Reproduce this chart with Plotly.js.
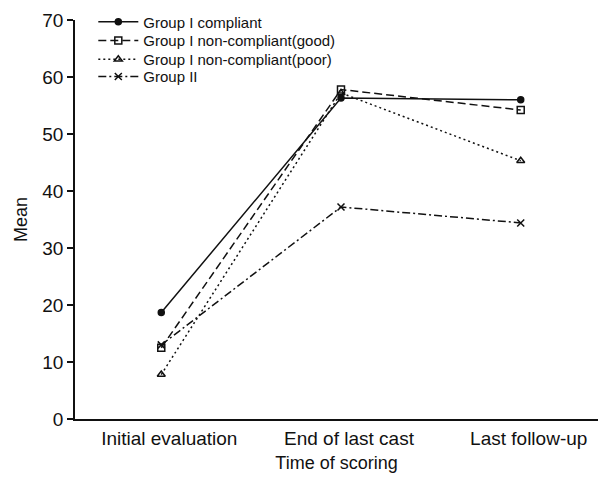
<!DOCTYPE html>
<html><head><meta charset="utf-8">
<script src="https://cdn.plot.ly/plotly-3.0.1.min.js"></script>
<style>body{margin:0;padding:0;background:#fff}</style>
</head><body><div id="chart" style="width:599px;height:478px"></div>
<script>
const categories = ["Initial evaluation", "End of last cast", "Last follow-up"];
const seriesNames = ["Group I compliant", "Group I non-compliant(good)", "Group I non-compliant(poor)", "Group II"];
const compliant = [18.7, 56.3, 56.0];
const nonCompliantGood = [12.5, 57.8, 54.2];
const nonCompliantPoor = [7.8, 57.2, 45.3];
const groupII = [13.0, 37.2, 34.4];
const yTicks = [0, 10, 20, 30, 40, 50, 60, 70];

const xIdx = categories.map((c, i) => i);
const styles = [
  {dash: 'solid', symbol: 'circle', size: 6},
  {dash: '8px,4px', symbol: 'square-open', size: 7},
  {dash: '2px,3px', symbol: 'triangle-up-open', size: 7},
  {dash: '8px,3px,2px,3px', symbol: 'x-thin-open', size: 7}
];
const legendIds = ['legend', 'legend2', 'legend3', 'legend4'];
const legendY = [0.995, 0.948, 0.901, 0.858];
const vals = [compliant, nonCompliantGood, nonCompliantPoor, groupII];
const traces = vals.map((v, i) => ({
  x: xIdx, y: v, name: seriesNames[i], type: 'scatter', mode: 'lines+markers',
  legend: legendIds[i],
  line: {color: '#111', width: 1.5, dash: styles[i].dash},
  marker: {symbol: styles[i].symbol, size: styles[i].size, color: '#111', line: {color: '#111', width: 1.5}}
}));

const layout = {
  width: 599, height: 478,
  margin: {l: 75, r: 1, t: 20, b: 59},
  paper_bgcolor: '#fff', plot_bgcolor: '#fff',
  font: {family: 'Liberation Sans, Arial, sans-serif', color: '#111', size: 18},
  showlegend: true,
  xaxis: {
    range: [-0.48, 2.43], tickvals: xIdx, ticktext: categories,
    showgrid: false, zeroline: false, showline: true, linecolor: '#111', linewidth: 1.5,
    ticks: '', ticklabelshift: 8, ticklabelstandoff: 1, tickfont: {size: 19},
    title: {text: 'Time of scoring', font: {size: 18}, standoff: 9}
  },
  yaxis: {
    range: [0, 70], tickvals: yTicks, showgrid: false, zeroline: false,
    showline: true, linecolor: '#111', linewidth: 1.5,
    ticks: 'outside', ticklen: 6, tickwidth: 1.5, tickcolor: '#111', tickfont: {size: 19},
    title: {text: 'Mean', font: {size: 18}, standoff: 10}
  }
};
legendIds.forEach((id, i) => {
  layout[id] = {x: 0.035, y: legendY[i], xanchor: 'left', yanchor: 'middle',
                bgcolor: 'rgba(0,0,0,0)', font: {size: 15}, itemwidth: 40};
});
Plotly.newPlot('chart', traces, layout, {displayModeBar: false, responsive: false});
</script></body></html>
